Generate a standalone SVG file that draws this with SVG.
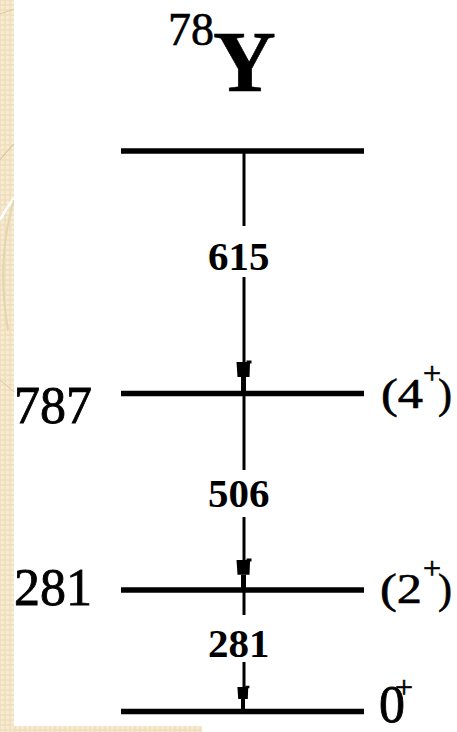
<svg xmlns="http://www.w3.org/2000/svg" width="457" height="732" viewBox="0 0 457 732">
  <defs>
    <pattern id="chk" width="5" height="5" patternUnits="userSpaceOnUse">
      <rect width="5" height="5" fill="#efdfbd"/>
      <rect x="0.8" y="0.8" width="3.4" height="3.4" rx="1" fill="#f7ecd3"/>
    </pattern>
    <clipPath id="stripClip"><rect x="0" y="0" width="14" height="732"/></clipPath>
    <g id="arrow">
      <polygon points="-7,0 3,0 3,-1.5 8,-1.5 8,1.5 6.5,1.5 6,15 -6,15"/>
      <rect x="-2.5" y="15" width="5" height="16"/>
    </g>
  </defs>
  <style>
    .lvl { stroke: #000; stroke-width: 5.5; fill: none; }
    .ray { stroke: #000; stroke-width: 3; fill: none; }
    .serif { font-family: "Liberation Serif", "Times New Roman", serif; fill: #000; stroke: #000; stroke-width: 0.6; }
    .glab { font-family: "Liberation Serif", "Times New Roman", serif; font-weight: bold; font-size: 41px; fill: #000; }
    .elab { font-family: "Liberation Serif", "Times New Roman", serif; font-size: 52px; fill: #000; stroke: #000; stroke-width: 0.8; }
  </style>

  <rect width="457" height="732" fill="#ffffff"/>

  <!-- decorative background strip -->
  <g id="background">
    <rect x="0" y="0" width="14" height="732" fill="url(#chk)"/>
    <rect x="0" y="726" width="202" height="6" fill="url(#chk)"/>
    <g clip-path="url(#stripClip)" fill="none">
      <path d="M0,14 L14,9" stroke="#d9c8a3" stroke-width="1"/>
      <path d="M0,160 Q8,150 14,144" stroke="#d9c8a3" stroke-width="1.2"/>
      <path d="M0,220 Q6,208 14,198" stroke="#ffffff" stroke-width="2.5"/>
      <path d="M14,200 Q-4,260 8,330" stroke="#e3d4b3" stroke-width="2"/>
      <path d="M0,380 L14,392" stroke="#d9c8a3" stroke-width="1"/>
    </g>
  </g>

  <!-- title -->
  <g id="title">
    <text class="serif" x="168" y="45" font-size="46" stroke-width="0.3">78</text>
    <text class="serif" x="213" y="91" font-size="87" font-weight="bold" stroke-width="0">Y</text>
  </g>

  <!-- levels -->
  <g id="level-top">
    <line class="lvl" x1="121" y1="151" x2="364" y2="151"/>
  </g>
  <g id="level-787">
    <line class="lvl" x1="121" y1="393.5" x2="364" y2="393.5"/>
    <text class="elab" x="14" y="423">787</text>
    <g transform="translate(381,408) scale(1.2,1)">
      <text class="serif" x="0" y="0" font-size="42">(4</text>
    </g>
    <text class="serif" x="423" y="384" font-size="32" stroke-width="0.3">+</text>
    <text class="serif" x="438" y="408" font-size="42">)</text>
  </g>
  <g id="level-281">
    <line class="lvl" x1="121" y1="590" x2="364" y2="590"/>
    <text class="elab" x="14" y="605">281</text>
    <g transform="translate(380,603) scale(1.2,1)">
      <text class="serif" x="0" y="0" font-size="42">(2</text>
    </g>
    <text class="serif" x="423" y="579" font-size="32" stroke-width="0.3">+</text>
    <text class="serif" x="438" y="603" font-size="42">)</text>
  </g>
  <g id="level-0">
    <line class="lvl" x1="121" y1="711.5" x2="364" y2="711.5"/>
    <text class="elab" x="379" y="722">0</text>
    <text class="serif" x="395" y="698" font-size="32" stroke-width="0.3">+</text>
  </g>

  <!-- transitions -->
  <g id="connectors">
    <g id="gamma-615">
      <line class="ray" x1="244" y1="151" x2="244" y2="226"/>
      <text class="glab" x="208" y="270">615</text>
      <line class="ray" x1="244" y1="277" x2="244" y2="363"/>
      <use href="#arrow" transform="translate(243.5,362)"/>
    </g>
    <g id="gamma-506">
      <line class="ray" x1="244" y1="393" x2="244" y2="470"/>
      <text class="glab" x="208" y="507">506</text>
      <line class="ray" x1="244" y1="517" x2="244" y2="561"/>
      <use href="#arrow" transform="translate(243.5,560) scale(1,0.98)"/>
    </g>
    <g id="gamma-281">
      <line class="ray" x1="244" y1="590" x2="244" y2="615"/>
      <text class="glab" x="208" y="657">281</text>
      <line class="ray" x1="244" y1="662" x2="244" y2="688"/>
      <use href="#arrow" transform="translate(243,687) scale(0.8,0.8)"/>
    </g>
  </g>
</svg>
